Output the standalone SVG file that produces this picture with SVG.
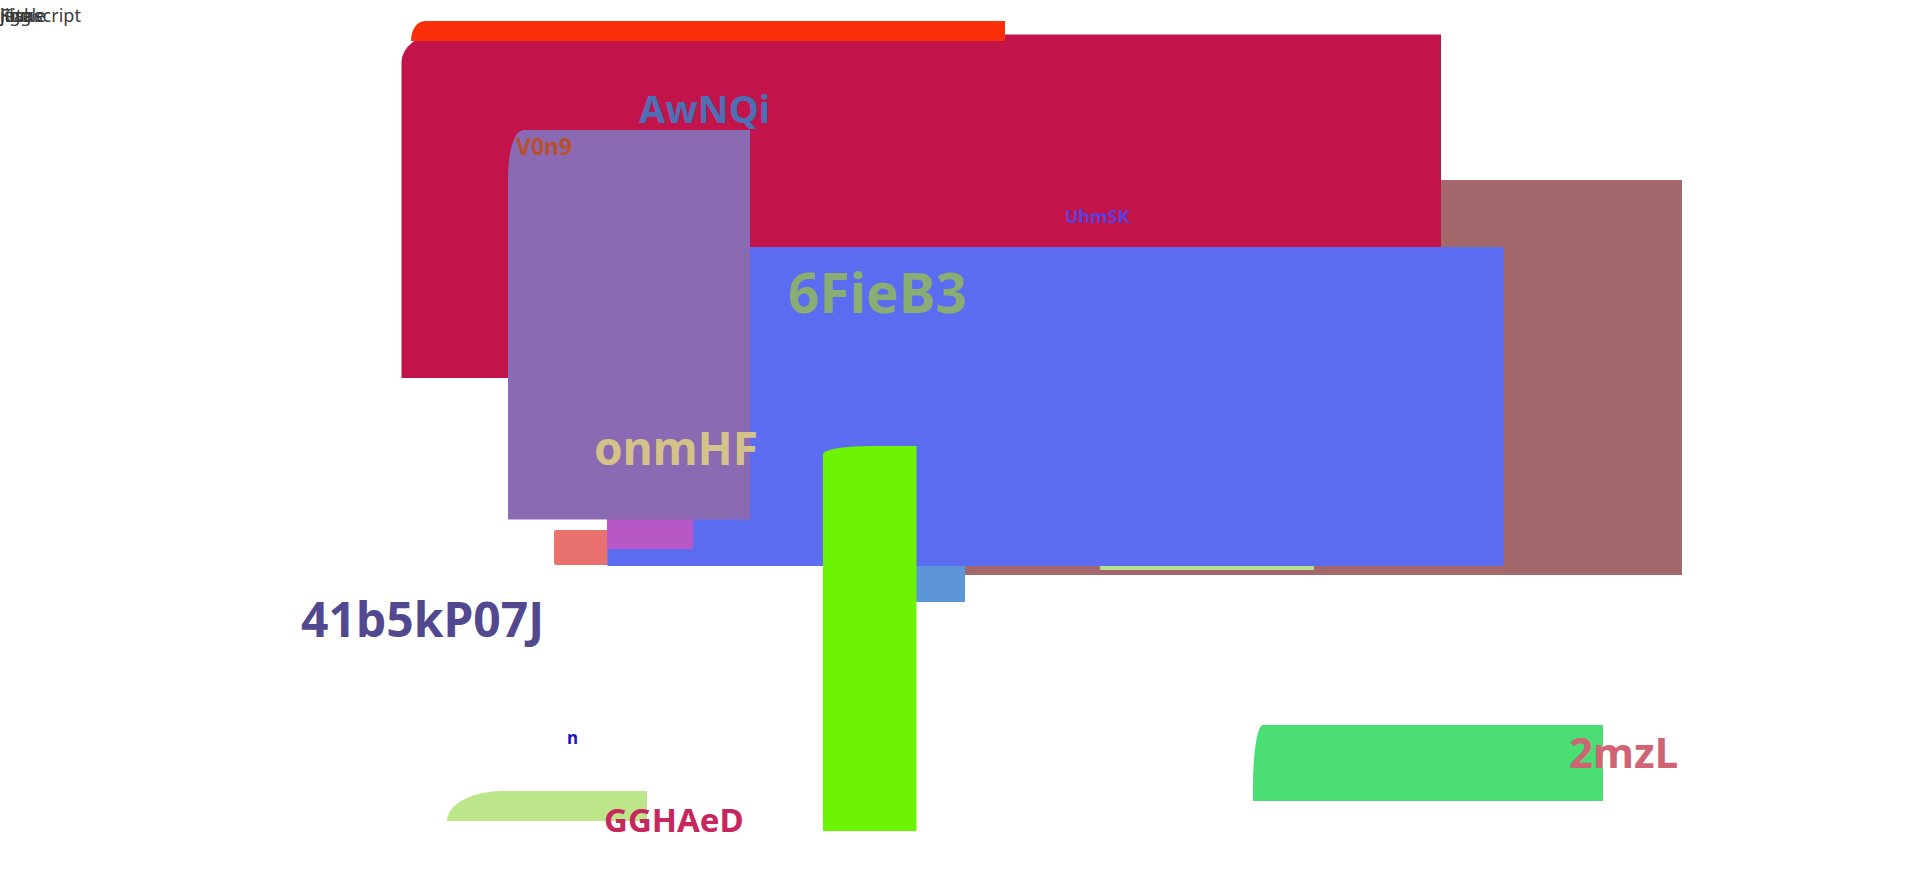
<svg xmlns="http://www.w3.org/2000/svg" width="1920" height="870" viewBox="0 0 1920 870">
<style>
.lbl{font-family:"Noto Sans","Open Sans","DejaVu Sans",sans-serif;font-weight:bold}
.tl{font-family:"Noto Sans","Open Sans",sans-serif;font-size:18px;fill:#3a3a3a}
</style>
<rect width="1920" height="870" fill="#ffffff"/>
<g id="top-texts">
<text class="tl" x="0" y="22">javascript</text>
<text class="tl" x="0" y="22">Kite</text>
<text class="tl" x="0" y="22">jiggle</text>
<text class="tl" x="0" y="22">Flake</text>
</g>
<g id="node-brown"><rect x="880" y="180" width="802" height="395" fill="#A3686C"/></g>
<g id="node-crimson"><path d="M401.5,378 V62 A36,28 0 0 1 437.5,34.5 H1441 V378 Z" fill="#C2144A"/></g>
<g id="node-red"><path d="M411,41 A14,20 0 0 1 425,21 H1005 V41 Z" fill="#F82F08"/></g>
<g id="node-salmon"><rect x="554" y="530" width="60" height="35" rx="2" fill="#E9716E"/></g>
<g id="node-lightline"><rect x="1100" y="566" width="214" height="4" fill="#B5E08E"/></g>
<g id="node-steel"><rect x="870" y="566" width="95" height="36" fill="#5D96D6"/></g>
<g id="node-blue"><rect x="607.5" y="247" width="896.5" height="319" fill="#5C6CF0"/>
<text class="lbl" x="788" y="313" font-size="55" fill="#8AAD73">6FieB3</text></g>
<g id="node-magenta"><rect x="607" y="519" width="86" height="30" fill="#B758C6"/></g>
<g id="node-purple"><path d="M508,519.5 V177 A15,47 0 0 1 523,130 H750 V519.5 Z" fill="#8A6AB2"/></g>
<g id="node-lime"><path d="M823,831 V454 A50,8 0 0 1 873,446 H916.5 V831 Z" fill="#6CF404"/></g>
<g id="node-palegreen"><path d="M447,821 A56,30 0 0 1 503,791 H647 V821 Z" fill="#BDE589"/></g>
<g id="node-green"><path d="M1253,801 V785 A10,60 0 0 1 1263,725 H1603 V801 Z" fill="#4ADE74"/></g>
<g id="labels">
<text class="lbl" x="639" y="123" font-size="38" fill="#4C6FB5">AwNQi</text>
<text class="lbl" x="516" y="155" font-size="23" fill="#B8502E">V0n9</text>
<text class="lbl" x="1065" y="223" font-size="18" fill="#5A3FDD">UhmSK</text>
<text class="lbl" x="594" y="465" font-size="46" fill="#D4C389">onmHF</text>
<text class="lbl" x="301" y="637" font-size="48" fill="#52488F">41b5kP07J</text>
<text class="lbl" x="567" y="744" font-size="17" fill="#1A14D0">n</text>
<text class="lbl" x="604" y="832" font-size="33" fill="#C7275D">GGHAeD</text>
<text class="lbl" x="1569" y="768" font-size="42" fill="#D06474">2mzL</text>
</g>
<g id="connectors"></g>
</svg>
